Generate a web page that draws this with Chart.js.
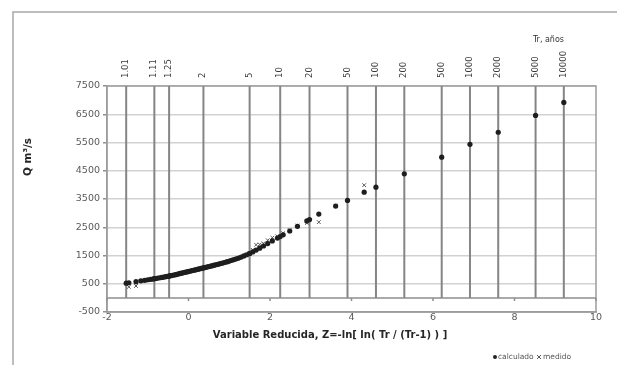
<!DOCTYPE html>
<html>
<head>
<meta charset="utf-8">
<script src="https://cdn.jsdelivr.net/npm/chart.js@4.4.1/dist/chart.umd.min.js"></script>
<style>
  html, body { margin: 0; padding: 0; background: #fff; }
  canvas { display: block; }
</style>
</head>
<body>
<canvas id="chart" width="617" height="365"></canvas>
<script>
// ---------- Data ----------

// return periods marked on the top axis (Tr, años)
const trValues = [1.01, 1.11, 1.25, 2, 5, 10, 20, 50, 100, 200, 500, 1000, 2000, 5000, 10000];
const trLabels = ['1.01', '1.11', '1.25', '2', '5', '10', '20', '50', '100', '200', '500', '1000', '2000', '5000', '10000'];
// calculated discharge at those return periods (m3/s)
const qCalcTr = [520, 678, 773, 1062, 1570, 2170, 2770, 3450, 3920, 4390, 4980, 5437, 5862, 6460, 6920];

// reduced variable of the observed sample (ascending)
const zObs = [
    -1.463, -1.288, -1.169, -1.075, -0.996, -0.927, -0.864, -0.806, -0.752, -0.701,
    -0.652, -0.606, -0.561, -0.518, -0.476, -0.435, -0.395, -0.356, -0.317, -0.279,
    -0.241, -0.204, -0.167, -0.131, -0.094, -0.058, -0.021, 0.015, 0.051, 0.087,
    0.124, 0.160, 0.197, 0.234, 0.272, 0.309, 0.347, 0.386, 0.425, 0.464,
    0.504, 0.545, 0.586, 0.629, 0.672, 0.716, 0.761, 0.807, 0.854, 0.903,
    0.953, 1.004, 1.058, 1.113, 1.171, 1.230, 1.293, 1.359, 1.427, 1.500,
    1.577, 1.659, 1.747, 1.841, 1.944, 2.057, 2.182, 2.323, 2.484, 2.674,
    2.904, 3.198, 3.611, 4.311
];
// calculated discharge at the observed positions
const qCalcObs = [
    535, 575, 602, 623, 641, 657, 672, 686, 700, 712,
    725, 737, 749, 761, 773, 785, 797, 809, 821, 833,
    853, 866, 878, 890, 903, 915, 928, 940, 952, 965,
    977, 989, 1002, 1015, 1028, 1041, 1055, 1069, 1083, 1097,
    1111, 1126, 1141, 1156, 1172, 1188, 1204, 1223, 1242, 1261,
    1281, 1302, 1328, 1354, 1382, 1410, 1446, 1485, 1526, 1570,
    1628, 1691, 1758, 1836, 1923, 2016, 2116, 2231, 2367, 2533,
    2723, 2965, 3250, 3740
];
// measured discharge
const qMedido = [
    390, 420, 590, 615, 640, 650, 665, 680, 695, 708,
    720, 735, 745, 758, 770, 782, 795, 805, 818, 830,
    845, 858, 870, 882, 895, 905, 920, 935, 945, 958,
    970, 980, 995, 1010, 1022, 1035, 1050, 1062, 1078, 1090,
    1105, 1120, 1135, 1150, 1165, 1180, 1196, 1215, 1235, 1255,
    1275, 1300, 1325, 1350, 1380, 1410, 1440, 1480, 1520, 1580,
    1700, 1880, 1890, 1930, 2040, 2130, 2180, 2290, 2400, 2560,
    2650, 2680, 3260, 3990
];

// axis ranges
const zMin = -2, zMax = 10, zStep = 2;
const qMin = -500, qMax = 7500, qStep = 1000;
// vertical Tr guide lines run from Q = 0 up to the top
const trLineBottom = 0, trLineTop = 7500;

// ---------- Helpers ----------

function reducedVariable(tr) {
    return -Math.log(Math.log(tr / (tr - 1)));
}

const trZ = trValues.map(reducedVariable);

const TICK_COLOR = '#595959';
const FONT = 'DejaVu Sans';

// ---------- Datasets ----------

const trLineSets = trZ.map(z => ({
    data: [{ x: z, y: trLineBottom }, { x: z, y: trLineTop }],
    showLine: true,
    borderColor: '#858585',
    borderWidth: 2,
    pointRadius: 0,
    xAxisID: 'x',
    order: 3
}));

const calculado = trZ.map((z, i) => ({ x: z, y: qCalcTr[i] }))
    .concat(zObs.map((z, i) => ({ x: z, y: qCalcObs[i] })));

const medido = zObs.map((z, i) => ({ x: z, y: qMedido[i] }));

// ---------- Decorations ----------

const decorations = {
    id: 'decorations',
    beforeDraw(chart) {
        const ctx = chart.ctx;
        ctx.save();
        ctx.fillStyle = '#fff';
        ctx.fillRect(0, 0, chart.width, chart.height);
        // outer chart frame (runs off the picture to the right and bottom)
        ctx.strokeStyle = '#a8a8a8';
        ctx.lineWidth = 1.5;
        ctx.strokeRect(13, 12, 800, 500);
        ctx.restore();
    },
    beforeDatasetsDraw(chart) {
        const { ctx, chartArea } = chart;
        const xs = chart.scales.x, ys = chart.scales.y;
        ctx.save();
        // plot area border
        ctx.strokeStyle = '#9c9c9c';
        ctx.lineWidth = 1.5;
        ctx.strokeRect(chartArea.left, chartArea.top, chartArea.right - chartArea.left, chartArea.bottom - chartArea.top);
        // horizontal axis crossing at Q = 0
        const y0 = ys.getPixelForValue(0);
        ctx.strokeStyle = '#8f8f8f';
        ctx.beginPath();
        ctx.moveTo(chartArea.left, y0);
        ctx.lineTo(chartArea.right, y0);
        xs.ticks.forEach(t => {
            const px = xs.getPixelForValue(t.value);
            ctx.moveTo(px, y0);
            ctx.lineTo(px, y0 + 3);
        });
        ctx.stroke();
        ctx.restore();
    },
    afterDraw(chart) {
        const ctx = chart.ctx;
        ctx.save();
        ctx.fillStyle = '#262626';
        // axis titles
        ctx.font = 'bold 10px ' + FONT;
        ctx.textAlign = 'center';
        ctx.textBaseline = 'middle';
        ctx.fillText('Variable Reducida, Z=-ln[ ln( Tr / (Tr-1) ) ]', 330, 335);
        ctx.save();
        ctx.translate(28, 157);
        ctx.rotate(-Math.PI / 2);
        ctx.font = 'bold 10.5px ' + FONT;
        ctx.fillText('Q m³/s', 0, 0);
        ctx.restore();
        // top axis caption
        ctx.font = '8px ' + FONT;
        ctx.textAlign = 'right';
        ctx.fillStyle = '#333';
        ctx.fillText('Tr, años', 564, 40);
        // legend
        ctx.font = '7.5px ' + FONT;
        ctx.textAlign = 'left';
        ctx.beginPath();
        ctx.arc(495, 357, 2, 0, Math.PI * 2);
        ctx.fillStyle = '#222';
        ctx.fill();
        ctx.fillStyle = '#555';
        ctx.fillText('calculado', 498, 357);
        ctx.strokeStyle = '#555';
        ctx.lineWidth = 1;
        ctx.beginPath();
        ctx.moveTo(537, 355); ctx.lineTo(541, 359);
        ctx.moveTo(541, 355); ctx.lineTo(537, 359);
        ctx.stroke();
        ctx.fillText('medido', 543, 357);
        ctx.restore();
    }
};

// ---------- Chart ----------

new Chart(document.getElementById('chart'), {
    type: 'scatter',
    data: {
        datasets: [
            {
                label: 'calculado',
                data: calculado,
                pointStyle: 'circle',
                pointRadius: 2.6,
                pointBackgroundColor: '#1e1e1e',
                pointBorderWidth: 0,
                order: 1
            },
            {
                label: 'medido',
                data: medido,
                pointStyle: 'crossRot',
                pointRadius: 2.6,
                pointBorderColor: '#5a5a5a',
                pointBorderWidth: 1,
                order: 2
            },
            ...trLineSets
        ]
    },
    options: {
        responsive: false,
        animation: false,
        layout: { padding: { left: 0, right: 21, top: 0, bottom: 0 } },
        plugins: {
            legend: { display: false },
            tooltip: { enabled: false }
        },
        scales: {
            x: {
                type: 'linear',
                position: 'bottom',
                min: zMin,
                max: zMax,
                ticks: {
                    stepSize: zStep,
                    padding: -8,
                    color: TICK_COLOR,
                    font: { family: FONT, size: 9.5 },
                    callback: v => String(v)
                },
                grid: { display: false },
                border: { display: true, color: '#9c9c9c', width: 1.5 },
                afterFit(scale) { scale.height = 53; }
            },
            x2: {
                type: 'linear',
                position: 'top',
                min: zMin,
                max: zMax,
                afterBuildTicks(scale) {
                    scale.ticks = trZ.map(v => ({ value: v }));
                },
                ticks: {
                    autoSkip: false,
                    minRotation: 90,
                    maxRotation: 90,
                    padding: 0,
                    labelOffset: 10,
                    color: '#3a3a3a',
                    font: { family: FONT, size: 8.5 },
                    callback: (v, i) => trLabels[i]
                },
                grid: { display: false },
                border: { display: false },
                afterFit(scale) { scale.height = 86; }
            },
            y: {
                type: 'linear',
                min: qMin,
                max: qMax,
                ticks: {
                    stepSize: qStep,
                    padding: 3,
                    color: TICK_COLOR,
                    font: { family: FONT, size: 9.5 },
                    callback: v => String(v)
                },
                grid: {
                    color: '#d2d2d2',
                    lineWidth: 1.5,
                    tickLength: 4,
                    tickColor: '#8f8f8f'
                },
                border: { display: true, color: '#9c9c9c', width: 1.5 },
                afterFit(scale) { scale.width = 107; }
            }
        }
    },
    plugins: [decorations]
});
</script>
</body>
</html>
